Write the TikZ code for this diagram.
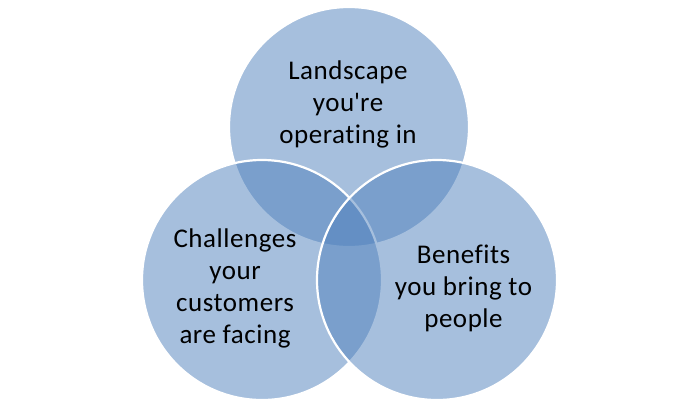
\documentclass[tikz,border=0pt]{standalone}
\usepackage{fontspec}
\setmainfont{Carlito}[Ligatures={NoCommon}, LetterSpace=2]
\definecolor{vennblue}{HTML}{4F81BD}
\begin{document}
\begin{tikzpicture}[x=1pt,y=-1pt,
  venn/.style={circle, minimum size=240pt, inner sep=0pt, fill=vennblue, fill opacity=0.5, draw=white, line width=2.2pt},
  lbl/.style={align=center, font=\fontsize{27}{32}\selectfont, text=black, inner sep=0pt, anchor=base}]
\useasboundingbox (0,0) rectangle (698,407);
\fill[white] (0,0) rectangle (698,407);
\node[venn] (top) at (349,127) {};
\node[venn] (left) at (262,280) {};
\node[venn] (right) at (437,280) {};
\node[lbl] (ttop) at (348,143) {Landscape\\you\textquotesingle re\\operating in};
\node[lbl] (tleft) at (235,343) {Challenges\\your\\customers\\are facing};
\node[lbl] (tright) at (463.5,327) {Benefits\\you bring to\\people};
\end{tikzpicture}
\end{document}
